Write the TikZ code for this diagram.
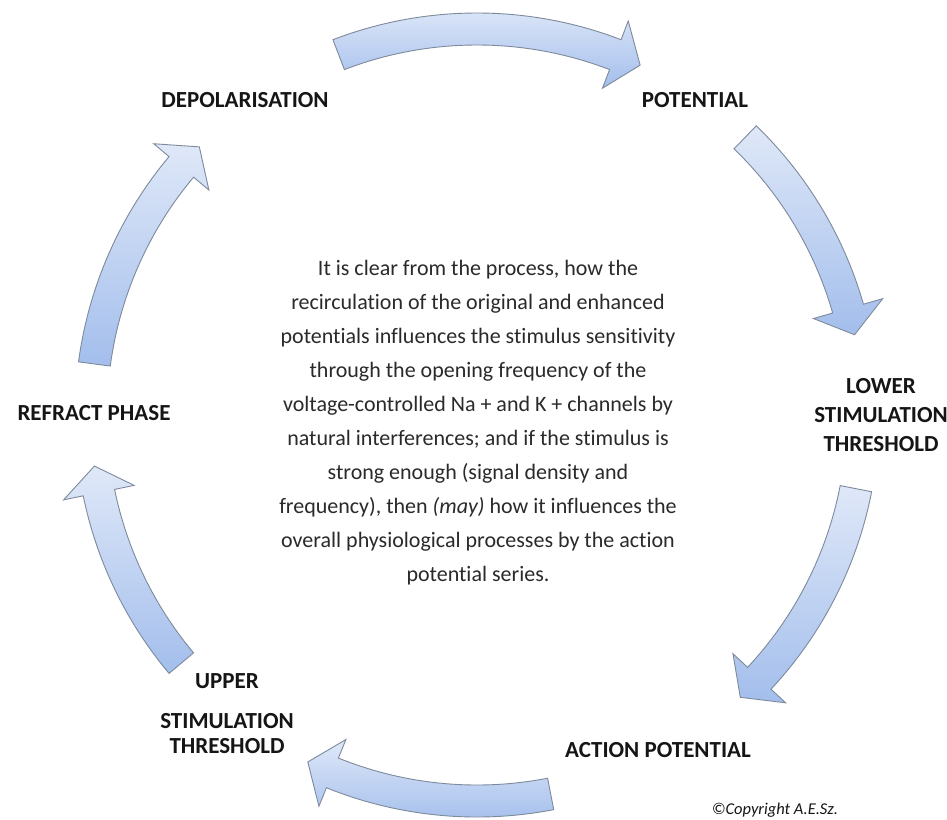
\documentclass[tikz,border=0pt]{standalone}
\usepackage{fontspec}
\setmainfont{Carlito}[Ligatures=NoCommon]
\usetikzlibrary{calc}
\definecolor{arrowtop}{HTML}{DFE8F8}
\definecolor{arrowbot}{HTML}{A3BEEC}
\definecolor{arrowline}{HTML}{7D8A9C}
\definecolor{lbltxt}{HTML}{151515}
\definecolor{bodytxt}{HTML}{2A2A2A}
\tikzset{
  arrowband/.style={top color=arrowtop, bottom color=arrowbot, draw=arrowline, line width=0.9pt, line join=miter},
  lbl/.style={font=\fontsize{23}{24}\selectfont\bfseries, text=lbltxt, inner sep=0pt, align=center},
  bodytext/.style={font=\fontsize{22}{34}\selectfont, text=bodytxt, inner sep=0pt, align=center},
  copytext/.style={font=\fontsize{16.5}{18}\selectfont\itshape, text=lbltxt, inner sep=0pt}
}
% tail angle, tip angle (clockwise)
\newcommand\cycarrow[2]{%
  \pgfmathsetmacro\headbase{#2+4}%
  \path[arrowband] (#1:402) arc[start angle=#1, end angle=\headbase, radius=402]
    -- (\headbase:422) -- (#2:386) -- (\headbase:350) -- (\headbase:370)
    arc[start angle=\headbase, end angle=#1, radius=370] -- cycle;
}
\begin{document}
\begin{tikzpicture}[x=1pt,y=1pt]
\useasboundingbox (0,0) rectangle (947,-819);
\fill[white] (0,0) rectangle (947,-819);
\begin{scope}[shift={(477,-415)}]
  \cycarrow{111}{65}
  \cycarrow{46}{12}
  \cycarrow{-11}{-47}
  \cycarrow{-79}{-116}
  \cycarrow{-140}{-172.4}
  \cycarrow{172.4}{136}
\end{scope}
\node[lbl] (depol) at (245,-100) {DEPOLARISATION};
\node[lbl] (pot) at (695,-100) {POTENTIAL};
\node[lbl] (lower) at (881,-415) {LOWER\\[5pt]STIMULATION\\[5pt]THRESHOLD};
\node[lbl] (action) at (658,-750) {ACTION POTENTIAL};
\node[lbl] (upper) at (227,-714) {UPPER\\[16pt]STIMULATION\\[1pt]THRESHOLD};
\node[lbl] (refract) at (94,-413) {REFRACT PHASE};
\node[bodytext] (body) at (478,-423) {It is clear from the process, how the\\
recirculation of the original and enhanced\\
potentials influences the stimulus sensitivity\\
through the opening frequency of the\\
voltage-controlled Na + and K + channels by\\
natural interferences; and if the stimulus is\\
strong enough (signal density and\\
frequency), then \textit{(may)} how it influences the\\
overall physiological processes by the action\\
potential series.};
\node[copytext] (copy) at (775,-810) {©Copyright A.E.Sz.};
\end{tikzpicture}
\end{document}
